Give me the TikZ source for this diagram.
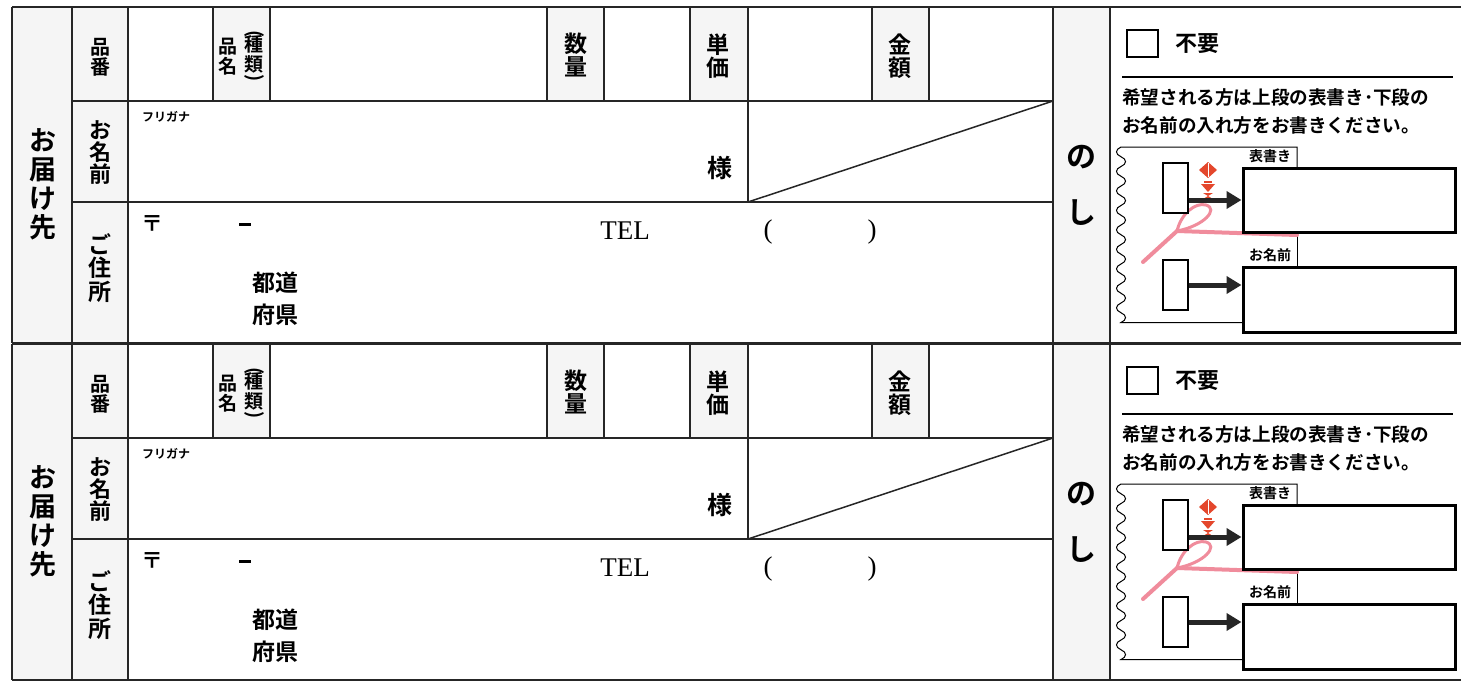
\documentclass[tikz,border=0pt]{standalone}
\usepackage{fontspec}
\setmainfont{Liberation Serif}
\newfontfamily\jp{Noto Sans CJK JP}[BoldFont={Noto Sans CJK JP Bold}]
\usetikzlibrary{arrows.meta}

\definecolor{noshired}{HTML}{E4472C}
\definecolor{ribbon}{HTML}{F08C9C}

\tikzset{
	rule/.style={line width=1.5pt, draw=black!85},
	shade/.style={fill=black!4},
	tate/.style 2 args={font=\jp\bfseries\fontsize{#1}{#2}\selectfont, align=center, inner sep=0pt},
	jptext/.style={font=\jp\bfseries\fontsize{#1}{#1}\selectfont, inner sep=0pt},
	tag/.style={draw, line width=1.3pt, minimum width=25pt, minimum height=50pt, inner sep=0pt},
	fillbox/.style={draw, line width=3pt, minimum width=212pt, minimum height=64pt, inner sep=0pt},
	fatarrow/.style={line width=5pt, draw=black!85, -{Triangle[length=15pt,width=17pt]}},
}

\newcommand{\tateparen}[1]{\rotatebox[origin=c]{-90}{\fontsize{19}{19}\selectfont #1}}

\begin{document}
	\begin{tikzpicture}[x=1pt,y=-1pt]
		
		\useasboundingbox (0,0) rectangle (1461,685);
		\fill[white] (0,0) rectangle (1461,685);
		
		\foreach \oy/\b in {0/a,337/b}{
		\begin{scope}[shift={(0,\oy)}]
		
		% Shaded label cells
		\fill[shade] (12,7) rectangle (128,343);
		\foreach \xl/\xr in {213/270,547/604,690/748,872/929}
			\fill[shade] (\xl,7) rectangle (\xr,101);
		\fill[shade] (1053,7) rectangle (1110,343);
		
		% Grid
		\draw[rule] (12,7) -- (1461,7);
		\draw[rule] (12,343) -- (1461,343);
		\draw[rule] (72,101) -- (1053,101);
		\draw[rule] (72,202) -- (1053,202);
		\foreach \x in {12,72,128,1053,1110}
			\draw[rule] (\x,7) -- (\x,343);
		\foreach \x in {213,270,547,604,690,872,929}
			\draw[rule] (\x,7) -- (\x,101);
		\draw[rule] (748,7) -- (748,202);
		\draw[rule] (748,202) -- (1053,101);
		
		% Row labels
		\node[tate={27}{29}] (dest\b) at (43,184) {お\\届\\け\\先};
		\node[tate={20}{20}] (hinban\b) at (100,57) {品\\番};
		\node[tate={22}{22}] (onamae\b) at (100,153) {お\\名\\前};
		\node[tate={23}{23.5}] (jusho\b) at (100,268) {ご\\住\\所};
		
		% Item row
		\node[tate={19}{20}] (hinmei\b) at (228,57) {品\\名};
		\node[tate={19}{20}] (shurui\b) at (254,57) {\tateparen{(}\\[-8pt]種\\類\\[-8pt]\tateparen{)}};
		\node[tate={23}{23}] (suryo\b) at (576,55) {数\\量};
		\node[tate={23}{23}] (tanka\b) at (718,56) {単\\価};
		\node[tate={23}{23}] (kingaku\b) at (900,56) {金\\額};
		
		% Name row
		\node[jptext=12, anchor=west] (kana\b) at (142,117) {フリガナ};
		\node[jptext=25] (sama\b) at (720,168) {様};
		
		% Address row
		\node[jptext=22] (zip\b) at (152,224) {〒};
		\node[inner sep=0pt] (zipdash\b) at (245,224) {\rule{12pt}{3pt}};
		\node[font=\fontsize{27}{27}\selectfont, inner sep=0pt] (tel\b) at (625,231) {TEL};
		\node[font=\fontsize{27}{27}\selectfont, inner sep=0pt] (lpar\b) at (768,232) {(};
		\node[font=\fontsize{27}{27}\selectfont, inner sep=0pt] (rpar\b) at (872,232) {)};
		\node[tate={23}{32}] (pref\b) at (275,299) {都道\\府県};
		
		% Noshi column
		\node[tate={30}{56}] (noshi\b) at (1081,185) {の\\し};
		
		% Noshi panel
		\node[draw, line width=1.5pt, minimum width=31pt, minimum height=27pt, inner sep=0pt] (chk\b) at (1142.5,43.5) {};
		\node[jptext=22, anchor=west] (fuyo\b) at (1175,44) {不要};
		\draw[line width=1.8pt] (1122,77) -- (1453,77);
		\node[font=\jp\bfseries\fontsize{18.6}{28}\selectfont, inner sep=0pt, anchor=west, align=left] (kibo\b) at (1122,111) {希望される方は上段の表書き･下段の\\お名前の入れ方をお書きください。};
		
		% Envelope outline
		\draw[line width=1pt] (1297,168) -- (1297,147) -- (1121,147)
			foreach \i in {0,...,8} {
				.. controls (1115,{147+19.5*\i+2.5}) and (1115,{147+19.5*\i+7.25}) .. (1121,{147+19.5*\i+9.75})
				.. controls (1127,{147+19.5*\i+12.25}) and (1127,{147+19.5*\i+17}) .. (1121,{147+19.5*\i+19.5})
			} -- (1243,322.5);
		\draw[line width=1pt] (1297,234) -- (1297,267);
		
		% Ribbon
		\draw[ribbon, line width=4pt, line cap=round] (1143,262) -- (1177,231) -- (1297,235);
		\draw[ribbon, line width=3pt] (1177,231) .. controls (1181,214) and (1195,202) .. (1206,205) .. controls (1219,209) and (1204,226) .. (1177,231);
		
		% Ornament
		\fill[noshired] (1208,162) -- (1217,170) -- (1208,178) -- (1199,170) -- cycle;
		\draw[white, line width=0.8pt] (1208,163) -- (1208,177);
		\fill[noshired] (1204,181) rectangle (1212,183);
		\fill[noshired] (1201,184) -- (1215,184) -- (1208,192) -- cycle;
		\fill[noshired] (1203,193) -- (1213,193) -- (1208,196) -- cycle;
		\fill[noshired] (1203,199) -- (1213,199) -- (1208,196) -- cycle;
		
		% Tags and boxes
		\node[tag, fill=white] (tagA\b) at (1175.5,188) {};
		\node[tag, fill=white] (tagB\b) at (1175.5,285) {};
		\node[fillbox] (omote\b) at (1349,200) {};
		\node[fillbox, minimum height=65pt] (namae\b) at (1349,299.5) {};
		\node[jptext=14] (omoteLbl\b) at (1270,156) {表書き};
		\node[jptext=14] (namaeLbl\b) at (1270,255) {お名前};
		
		\draw[fatarrow] (tagA\b.east |- omote\b.west) -- (omote\b.west);
		\draw[fatarrow] (tagB\b.east) -- (tagB\b.east -| namae\b.west);
		
		\end{scope}
		}
		
	\end{tikzpicture}
\end{document}
